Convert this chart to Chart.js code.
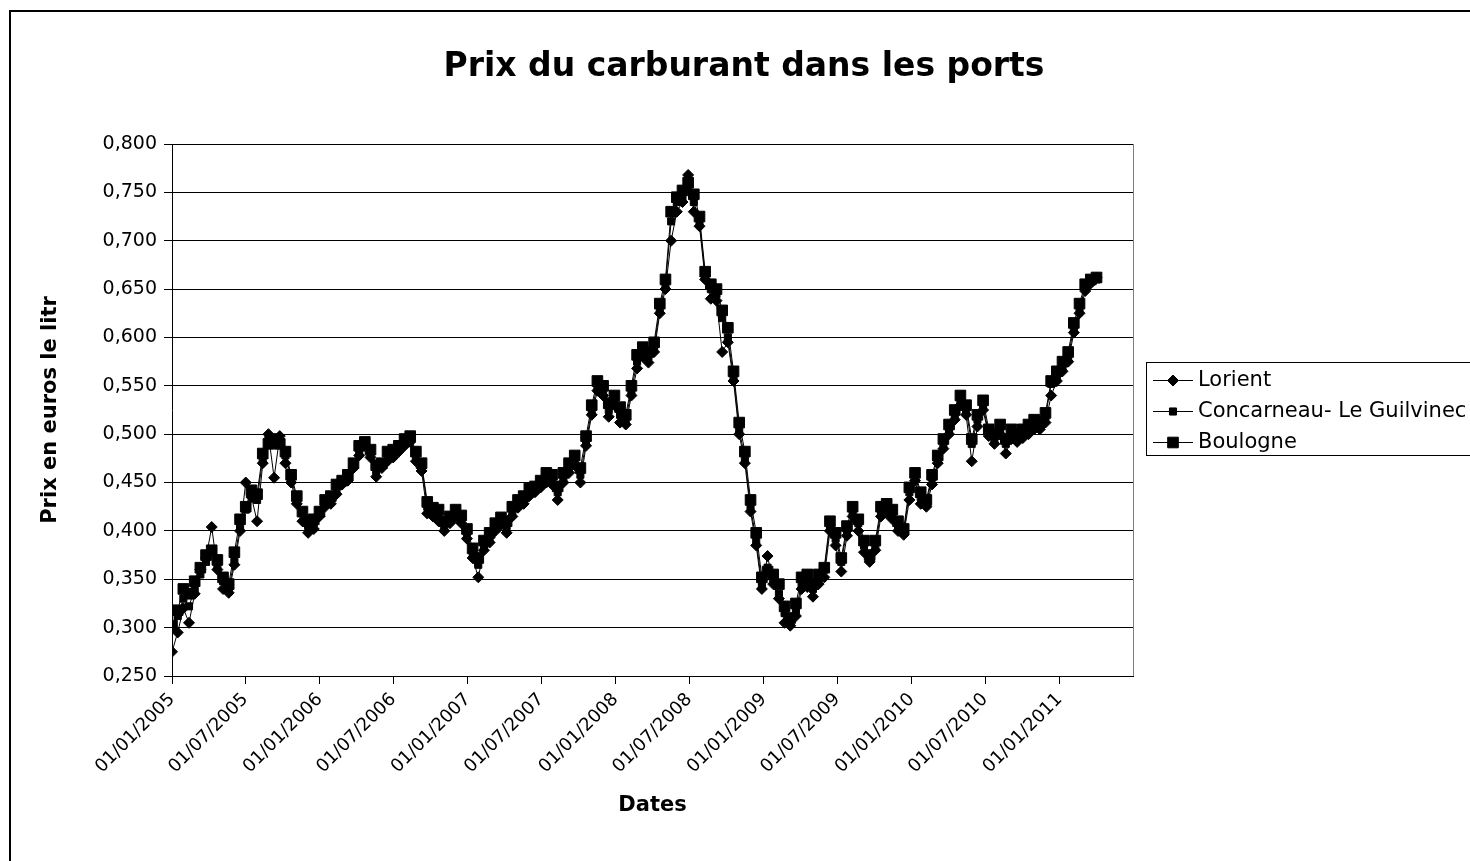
<!DOCTYPE html>
<html lang="fr">
<head>
<meta charset="utf-8">
<title>Prix du carburant dans les ports</title>
<script src="https://cdn.jsdelivr.net/npm/chart.js@4.4.1/dist/chart.umd.min.js"></script>
<style>
  html, body { margin: 0; padding: 0; background: #fff; }
  canvas { display: block; }
</style>
</head>
<body>
<canvas id="chart" width="1470" height="861"></canvas>
<script>
// relevés tous les 14 jours à partir du 01/01/2005
const startDate = '01/01/2005';
const endDate = '01/07/2011';
const stepDays = 14;

const chartTitle = 'Prix du carburant dans les ports';
const seriesNames = ['Lorient', 'Concarneau- Le Guilvinec', 'Boulogne'];

const tickLabels = ['01/01/2005', '01/07/2005', '01/01/2006', '01/07/2006', '01/01/2007', '01/07/2007',
  '01/01/2008', '01/07/2008', '01/01/2009', '01/07/2009', '01/01/2010', '01/07/2010', '01/01/2011'];

const lorient = [
  0.275, 0.295, 0.320, 0.305, 0.335, 0.360, 0.372, 0.404, 0.360, 0.340,
  0.336, 0.365, 0.400, 0.450, 0.435, 0.410, 0.470, 0.500, 0.455, 0.498,
  0.470, 0.450, 0.428, 0.410, 0.398, 0.402, 0.415, 0.425, 0.428, 0.438,
  0.448, 0.452, 0.465, 0.478, 0.488, 0.476, 0.456, 0.465, 0.472, 0.476,
  0.482, 0.488, 0.492, 0.472, 0.462, 0.418, 0.415, 0.410, 0.400, 0.408,
  0.414, 0.408, 0.392, 0.372, 0.352, 0.380, 0.388, 0.400, 0.406, 0.398,
  0.415, 0.424, 0.428, 0.436, 0.440, 0.445, 0.450, 0.448, 0.432, 0.450,
  0.460, 0.468, 0.450, 0.488, 0.520, 0.545, 0.540, 0.518, 0.530, 0.512,
  0.510, 0.540, 0.568, 0.580, 0.574, 0.585, 0.625, 0.650, 0.700, 0.730,
  0.740, 0.768, 0.730, 0.715, 0.660, 0.640, 0.638, 0.585, 0.595, 0.555,
  0.500, 0.470, 0.420, 0.385, 0.340, 0.374, 0.345, 0.330, 0.305, 0.302,
  0.312, 0.340, 0.342, 0.332, 0.345, 0.352, 0.400, 0.385, 0.358, 0.395,
  0.415, 0.400, 0.378, 0.368, 0.380, 0.415, 0.418, 0.412, 0.400, 0.396,
  0.432, 0.452, 0.428, 0.425, 0.448, 0.470, 0.485, 0.500, 0.515, 0.530,
  0.520, 0.472, 0.508, 0.525, 0.498, 0.490, 0.500, 0.480, 0.495, 0.492,
  0.496, 0.500, 0.505, 0.505, 0.512, 0.540, 0.555, 0.565, 0.575, 0.605,
  0.625, 0.648, 0.656, 0.662
];

const concarneau = [
  0.300, 0.312, 0.330, 0.322, 0.340, 0.355, 0.368, 0.378, 0.365, 0.348,
  0.340, 0.370, 0.405, 0.422, 0.440, 0.432, 0.475, 0.495, 0.490, 0.492,
  0.478, 0.455, 0.432, 0.418, 0.405, 0.408, 0.418, 0.428, 0.432, 0.442,
  0.450, 0.455, 0.468, 0.482, 0.490, 0.480, 0.462, 0.468, 0.478, 0.480,
  0.485, 0.492, 0.496, 0.478, 0.468, 0.425, 0.420, 0.418, 0.405, 0.412,
  0.418, 0.412, 0.398, 0.378, 0.365, 0.385, 0.392, 0.405, 0.410, 0.405,
  0.420, 0.428, 0.432, 0.440, 0.442, 0.448, 0.455, 0.452, 0.440, 0.455,
  0.465, 0.472, 0.458, 0.492, 0.525, 0.550, 0.545, 0.525, 0.535, 0.520,
  0.515, 0.545, 0.575, 0.585, 0.580, 0.590, 0.630, 0.655, 0.720, 0.740,
  0.745, 0.755, 0.740, 0.720, 0.665, 0.650, 0.645, 0.620, 0.600, 0.560,
  0.505, 0.475, 0.425, 0.390, 0.345, 0.362, 0.350, 0.335, 0.315, 0.305,
  0.318, 0.345, 0.348, 0.340, 0.350, 0.360, 0.405, 0.392, 0.368, 0.400,
  0.420, 0.408, 0.385, 0.370, 0.385, 0.420, 0.422, 0.418, 0.405, 0.398,
  0.440, 0.458, 0.435, 0.428, 0.455, 0.475, 0.490, 0.505, 0.520, 0.535,
  0.525, 0.490, 0.515, 0.530, 0.500, 0.495, 0.505, 0.490, 0.500, 0.495,
  0.500, 0.505, 0.510, 0.508, 0.518, 0.552, 0.560, 0.570, 0.580, 0.610,
  0.630, 0.652, 0.658, 0.660
];

const boulogne = [
  0.302, 0.318, 0.340, 0.335, 0.348, 0.362, 0.375, 0.380, 0.370, 0.352,
  0.345, 0.378, 0.412, 0.425, 0.442, 0.438, 0.480, 0.490, 0.495, 0.490,
  0.482, 0.458, 0.436, 0.420, 0.410, 0.412, 0.420, 0.432, 0.436, 0.448,
  0.452, 0.458, 0.470, 0.488, 0.492, 0.484, 0.468, 0.470, 0.482, 0.484,
  0.488, 0.495, 0.498, 0.482, 0.470, 0.430, 0.424, 0.422, 0.410, 0.415,
  0.422, 0.416, 0.402, 0.382, 0.372, 0.390, 0.398, 0.408, 0.414, 0.410,
  0.425, 0.432, 0.436, 0.444, 0.446, 0.452, 0.460, 0.458, 0.446, 0.460,
  0.470, 0.478, 0.465, 0.498, 0.530, 0.555, 0.550, 0.532, 0.540, 0.528,
  0.520, 0.550, 0.582, 0.590, 0.585, 0.595, 0.635, 0.660, 0.730, 0.745,
  0.752, 0.760, 0.748, 0.725, 0.668, 0.655, 0.650, 0.628, 0.610, 0.565,
  0.512, 0.482, 0.432, 0.398, 0.352, 0.358, 0.355, 0.345, 0.322, 0.310,
  0.325, 0.352, 0.355, 0.345, 0.355, 0.362, 0.410, 0.398, 0.372, 0.405,
  0.425, 0.412, 0.390, 0.375, 0.390, 0.425, 0.428, 0.422, 0.410, 0.402,
  0.445, 0.460, 0.440, 0.432, 0.458, 0.478, 0.495, 0.510, 0.525, 0.540,
  0.530, 0.495, 0.520, 0.535, 0.505, 0.500, 0.510, 0.495, 0.505, 0.500,
  0.505, 0.510, 0.515, 0.512, 0.522, 0.555, 0.565, 0.575, 0.585, 0.615,
  0.635, 0.655, 0.660, 0.662
];

// jj/mm/aaaa -> nombre de jours depuis startDate
function dayOf(s) {
  const [d, m, y] = s.split('/').map(Number);
  const [d0, m0, y0] = startDate.split('/').map(Number);
  return Math.round((Date.UTC(y, m - 1, d) - Date.UTC(y0, m0 - 1, d0)) / 86400000);
}
const tickDays = tickLabels.map(dayOf);
const toPoints = vals => vals.map((v, i) => ({ x: i * stepDays, y: v }));

const markers = [
  { pointStyle: 'rectRot', radius: 5.5 },
  { pointStyle: 'rect', radius: 5 },
  { pointStyle: 'rect', radius: 7.5 }
];

function makeSet(i, vals) {
  return {
    label: seriesNames[i],
    data: toPoints(vals),
    borderColor: '#000',
    borderWidth: 1,
    backgroundColor: '#000',
    pointBackgroundColor: '#000',
    pointBorderColor: '#000',
    pointBorderWidth: 1,
    pointStyle: markers[i].pointStyle,
    pointRadius: markers[i].radius,
    tension: 0
  };
}

// cadre, titre, bord droit de la zone et légende façon Excel
const decor = {
  id: 'decor',
  afterDraw(chart) {
    const ctx = chart.ctx, a = chart.chartArea;
    ctx.save();
    ctx.strokeStyle = '#000';
    ctx.lineWidth = 2;
    ctx.strokeRect(10, 11, 1500, 900);

    ctx.strokeStyle = '#808080';
    ctx.lineWidth = 1;
    ctx.beginPath();
    ctx.moveTo(Math.round(a.right) + 0.5, a.top);
    ctx.lineTo(Math.round(a.right) + 0.5, a.bottom);
    ctx.stroke();

    ctx.fillStyle = '#000';
    ctx.font = 'bold 33px "DejaVu Sans"';
    ctx.textAlign = 'center';
    ctx.textBaseline = 'middle';
    ctx.fillText(chartTitle, 744, 67);

    // légende
    ctx.strokeStyle = '#000';
    ctx.strokeRect(1146.5, 362.5, 400, 93);
    ctx.font = '21px "DejaVu Sans"';
    ctx.textAlign = 'left';
    seriesNames.forEach((name, i) => {
      const y = 380 + i * 31;
      ctx.beginPath();
      ctx.moveTo(1153, y + 0.5);
      ctx.lineTo(1193, y + 0.5);
      ctx.stroke();
      ctx.fillStyle = '#000';
      Chart.helpers.drawPoint(ctx, { pointStyle: markers[i].pointStyle, radius: markers[i].radius, rotation: 0, borderWidth: 1 }, 1173, y + 0.5);
      ctx.fillText(name, 1198, y + 1);
    });
    ctx.restore();
  }
};

new Chart(document.getElementById('chart'), {
  type: 'line',
  data: {
    datasets: [makeSet(0, lorient), makeSet(1, concarneau), makeSet(2, boulogne)]
  },
  options: {
    responsive: false,
    animation: false,
    devicePixelRatio: 1,
    layout: { padding: { top: 144, right: 337, bottom: 0, left: 0 } },
    plugins: { legend: { display: false }, tooltip: { enabled: false } },
    scales: {
      x: {
        type: 'linear',
        min: dayOf(startDate),
        max: dayOf(endDate),
        afterBuildTicks: s => { s.ticks = tickDays.map(v => ({ value: v })); },
        afterFit: s => { s.height = 185; },
        ticks: {
          autoSkip: false,
          minRotation: 45,
          maxRotation: 45,
          padding: 5,
          color: '#000',
          font: { family: 'DejaVu Sans', size: 18 },
          callback: v => tickLabels[tickDays.indexOf(v)]
        },
        grid: { drawOnChartArea: false, drawTicks: true, tickLength: 8, color: '#000' },
        border: { color: '#000' },
        title: {
          display: true, text: 'Dates', color: '#000',
          font: { family: 'DejaVu Sans', size: 21, weight: 'bold' },
          padding: { top: 0, bottom: 43 }
        }
      },
      y: {
        min: 0.25,
        max: 0.8,
        afterFit: s => { s.width = 172; },
        ticks: {
          stepSize: 0.05,
          padding: 7,
          color: '#000',
          font: { family: 'DejaVu Sans', size: 19 },
          callback: v => v.toFixed(3).replace('.', ',')
        },
        grid: { color: '#000', tickLength: 8 },
        border: { color: '#000' },
        title: {
          display: true, text: 'Prix en euros le litr', color: '#000',
          font: { family: 'DejaVu Sans', size: 21, weight: 'bold' },
          padding: { top: 38, bottom: 0 }
        }
      }
    }
  },
  plugins: [decor]
});
</script>
</body>
</html>
